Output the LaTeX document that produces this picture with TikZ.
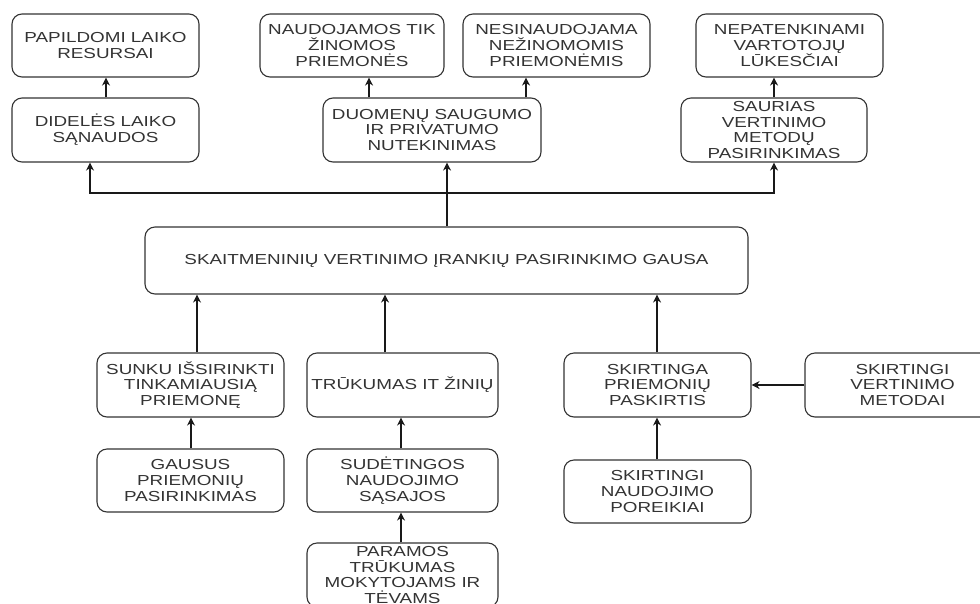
\documentclass[tikz,border=0pt]{standalone}
\usepackage{fontspec}
\setmainfont{Liberation Sans}[FakeStretch=1.3]
\usetikzlibrary{arrows.meta}
\definecolor{txt}{HTML}{333333}
\definecolor{brd}{HTML}{333333}
\begin{document}
\begin{tikzpicture}[x=1pt,y=-1pt,
  box/.style={draw=brd,line width=1.1pt,rounded corners=10pt,align=center,inner sep=0pt,
    text=txt,font=\fontsize{14.5}{15.8}\selectfont},
  arr/.style={draw=black!90,line width=1.1pt,-{Stealth[length=8pt,width=8pt,inset=2.5pt]}},
  ln/.style={draw=black!90,line width=1.1pt}]
\useasboundingbox (0,0) rectangle (980,603);
\clip (0,0) rectangle (980,603);
\fill[white] (0,0) rectangle (980,603);
% top row
\node[box,minimum width=187pt,minimum height=63pt] (pap) at (105.5,45.5) {PAPILDOMI LAIKO\\RESURSAI};
\node[box,minimum width=187pt,minimum height=64pt] (did) at (105.5,130) {DIDELĖS LAIKO\\SĄNAUDOS};
\node[box,minimum width=184pt,minimum height=63pt] (nau) at (352,45.5) {NAUDOJAMOS TIK\\ŽINOMOS\\PRIEMONĖS};
\node[box,minimum width=187pt,minimum height=63pt] (nes) at (556.5,45.5) {NESINAUDOJAMA\\NEŽINOMOMIS\\PRIEMONĖMIS};
\node[box,minimum width=218pt,minimum height=64pt] (duo) at (432,130) {DUOMENŲ SAUGUMO\\IR PRIVATUMO\\NUTEKINIMAS};
\node[box,minimum width=187pt,minimum height=63pt] (nep) at (789.5,45.5) {NEPATENKINAMI\\VARTOTOJŲ\\LŪKESČIAI};
\node[box,minimum width=186pt,minimum height=64pt] (sau) at (774,130) {SAURIAS\\VERTINIMO\\METODŲ\\PASIRINKIMAS};
% centre
\node[box,minimum width=603pt,minimum height=67pt] (cen) at (446.5,260.5) {SKAITMENINIŲ VERTINIMO ĮRANKIŲ PASIRINKIMO GAUSA};
% bottom
\node[box,minimum width=187pt,minimum height=64pt] (sun) at (190.5,385) {SUNKU IŠSIRINKTI\\TINKAMIAUSIĄ\\PRIEMONĘ};
\node[box,minimum width=187pt,minimum height=63pt] (gau) at (190.5,480.5) {GAUSUS\\PRIEMONIŲ\\PASIRINKIMAS};
\node[box,minimum width=191pt,minimum height=64pt] (tru) at (402.5,385) {TRŪKUMAS IT ŽINIŲ};
\node[box,minimum width=191pt,minimum height=63pt] (sud) at (402.5,480.5) {SUDĖTINGOS\\NAUDOJIMO\\SĄSAJOS};
\node[box,minimum width=191pt,minimum height=64pt] (par) at (402.5,575) {PARAMOS\\TRŪKUMAS\\MOKYTOJAMS IR\\TĖVAMS};
\node[box,minimum width=187pt,minimum height=64pt] (ska) at (657.5,385) {SKIRTINGA\\PRIEMONIŲ\\PASKIRTIS};
\node[box,minimum width=187pt,minimum height=63pt] (skn) at (657.5,491.5) {SKIRTINGI\\NAUDOJIMO\\POREIKIAI};
\node[box,minimum width=195pt,minimum height=64pt] (skv) at (902.5,385) {SKIRTINGI\\VERTINIMO\\METODAI};
% helper coordinates
\coordinate (j) at (447,193);
\coordinate (jl) at (90,193);
\coordinate (jr) at (774,193);
\coordinate (xa) at (106,0);
\coordinate (xb) at (369,0);
\coordinate (xc) at (526,0);
\coordinate (xd) at (197,0);
\coordinate (xe) at (191,0);
\coordinate (xf) at (385,0);
\coordinate (xg) at (401,0);
\coordinate (xh) at (657,0);
% connectors up
\draw[arr] (cen.north -| j) -- (duo.south -| j);
\draw[arr] (j) -- (jl) -- (did.south -| jl);
\draw[arr] (j) -- (jr) -- (sau.south -| jr);
\draw[arr] (did.north -| xa) -- (pap.south -| xa);
\draw[arr] (duo.north -| xb) -- (nau.south -| xb);
\draw[arr] (duo.north -| xc) -- (nes.south -| xc);
\draw[arr] (sau.north -| jr) -- (nep.south -| jr);
% connectors from below
\draw[arr] (sun.north -| xd) -- (cen.south -| xd);
\draw[arr] (gau.north -| xe) -- (sun.south -| xe);
\draw[arr] (tru.north -| xf) -- (cen.south -| xf);
\draw[arr] (sud.north -| xg) -- (tru.south -| xg);
\draw[arr] (par.north -| xg) -- (sud.south -| xg);
\draw[arr] (ska.north -| xh) -- (cen.south -| xh);
\draw[arr] (skn.north -| xh) -- (ska.south -| xh);
\draw[arr] (skv.west) -- (ska.east);
\end{tikzpicture}
\end{document}
